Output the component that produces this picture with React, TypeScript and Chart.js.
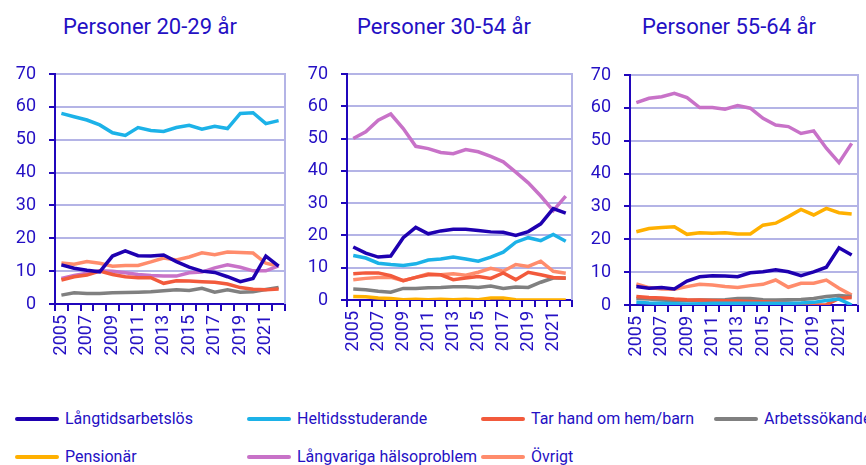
import React, { useEffect, useRef } from "react";
import { Chart, registerables } from "chart.js";

Chart.register(...registerables);

const years = ["2005","2006","2007","2008","2009","2010","2011","2012","2013","2014","2015","2016","2017","2018","2019","2020","2021","2022"];

const seriesNames = ["Långtidsarbetslös","Heltidsstuderande","Tar hand om hem/barn","Arbetssökande","Pensionär","Långvariga hälsoproblem","Övrigt"];
const seriesColors = ["#1e00b0","#1cb2e8","#f25a3c","#808080","#ffb000","#c872c8","#ff8c6c"];

const panelTitles = ["Personer 20-29 år","Personer 30-54 år","Personer 55-64 år"];

// Personer 20-29 år
const langtid1 = [11.9,10.9,10.3,9.8,14.6,16.2,14.7,14.6,14.9,12.9,11.2,10.0,9.6,8.3,6.8,7.8,14.6,11.5];
const heltid1 = [58.0,57.0,56.0,54.5,52.1,51.3,53.7,52.8,52.5,53.7,54.4,53.2,54.1,53.4,58.0,58.2,54.9,55.8];
const hem1 = [7.3,8.3,8.8,10.0,9.0,8.3,8.0,8.0,6.3,7.1,7.0,6.8,6.6,6.1,5.0,4.5,4.3,4.6];
const arbsok1 = [2.7,3.4,3.2,3.2,3.4,3.5,3.6,3.7,4.0,4.3,4.1,4.8,3.6,4.3,3.6,3.7,4.4,5.0];
const pens1: (number | null)[] = [null,null,null,null,null,null,null,null,null,null,null,null,null,null,null,null,null,null];
const halsa1 = [7.8,8.7,9.4,10.1,10.0,9.5,9.0,8.7,8.5,8.5,9.5,9.7,11.0,11.9,11.2,10.1,10.1,11.6];
const ovrigt1 = [12.5,12.1,12.9,12.4,11.5,11.7,11.7,12.8,14.0,13.4,14.3,15.6,15.0,15.8,15.7,15.5,12.4,11.5];

// Personer 30-54 år
const langtid2 = [16.4,14.5,13.3,13.6,19.3,22.5,20.5,21.4,21.9,21.9,21.5,21.1,21.0,20.0,21.2,23.6,28.3,26.9];
const heltid2 = [13.8,13.0,11.4,11.0,10.7,11.2,12.4,12.7,13.3,12.7,12.0,13.3,14.8,17.9,19.3,18.4,20.3,18.2];
const hem2 = [8.1,8.4,8.4,7.5,6.0,7.0,7.8,7.8,6.3,6.8,7.3,6.7,8.4,6.3,8.6,7.8,7.0,6.7];
const arbsok2 = [3.4,3.2,2.7,2.4,3.6,3.6,3.8,3.9,4.1,4.1,3.9,4.3,3.6,4.0,3.9,5.5,6.8,6.8];
const pens2 = [1.1,1.0,0.6,0.5,0.1,0.2,0.1,0.2,0.1,0.2,0.1,0.6,0.6,0.1,0.0,0.0,0.0,0.0];
const halsa2 = [50.0,52.1,55.7,57.6,53.1,47.6,46.9,45.7,45.3,46.6,45.9,44.5,42.8,39.6,36.3,32.2,27.7,32.2];
const ovrigt2 = [6.3,6.7,7.0,7.0,6.0,7.0,8.1,7.8,8.1,7.7,8.6,9.8,8.9,11.0,10.4,12.0,8.9,8.3];

// Personer 55-64 år
const langtid3 = [5.6,5.1,5.3,4.9,7.3,8.6,8.9,8.8,8.6,9.8,10.1,10.7,10.1,8.9,10.1,11.5,17.4,15.2];
const heltid3 = [0.8,0.6,0.5,0.4,0.3,0.4,0.5,0.5,0.5,0.5,0.5,0.5,0.5,0.6,0.8,1.4,1.8,0.0];
const hem3 = [2.6,2.3,2.1,1.8,1.6,1.5,1.4,1.3,1.2,1.1,1.0,0.8,0.6,0.1,0.0,0.1,2.0,2.3];
const arbsok3 = [2.0,1.8,1.5,1.3,1.4,1.5,1.5,1.6,2.0,2.0,1.6,1.5,1.6,1.7,2.0,2.6,2.9,2.6];
const pens3 = [22.3,23.3,23.6,23.8,21.5,22.0,21.8,22.0,21.6,21.6,24.3,24.9,26.9,29.1,27.4,29.4,28.1,27.7];
const halsa3 = [61.6,62.9,63.4,64.4,63.1,60.1,60.1,59.6,60.7,59.9,56.8,54.8,54.3,52.2,53.0,47.7,43.3,49.2];
const ovrigt3 = [6.4,5.3,4.9,4.8,5.6,6.3,6.1,5.6,5.3,5.9,6.3,7.6,5.4,6.6,6.6,7.6,5.1,3.0];

const panelData = [
  [langtid1, heltid1, hem1, arbsok1, pens1, halsa1, ovrigt1],
  [langtid2, heltid2, hem2, arbsok2, pens2, halsa2, ovrigt2],
  [langtid3, heltid3, hem3, arbsok3, pens3, halsa3, ovrigt3],
];

const TEXT = "#2410c4";
const AXIS = "#2006bc";
const GRID = "#b4b4e6";
const FONT = "Roboto, 'Noto Sans', sans-serif";

const CANVAS_TOP = 50;
const layouts = [
  { left: 10, areaLeft: 55, areaRight: 285, areaTop: 74, areaBottom: 304, titleLeft: 63 },
  { left: 302, areaLeft: 347, areaRight: 572, areaTop: 74, areaBottom: 300, titleLeft: 357 },
  { left: 585, areaLeft: 630, areaRight: 858, areaTop: 75, areaBottom: 305, titleLeft: 642 },
];
const X_AXIS_H = 60;
const PAD_RIGHT = 5;

const rightBorder = {
  id: "rightBorder",
  beforeDatasetsDraw(chart: any) {
    const { ctx, chartArea } = chart;
    ctx.save();
    ctx.strokeStyle = GRID;
    ctx.lineWidth = 2;
    ctx.beginPath();
    ctx.moveTo(chartArea.right, chartArea.top - 1);
    ctx.lineTo(chartArea.right, chartArea.bottom);
    ctx.stroke();
    ctx.restore();
  },
};

function Panel({ index }: { index: number }) {
  const ref = useRef<HTMLCanvasElement | null>(null);
  const lay = layouts[index];
  const yW = lay.areaLeft - lay.left;
  const width = lay.areaRight + PAD_RIGHT - lay.left;
  const padTop = lay.areaTop - CANVAS_TOP;
  const height = lay.areaBottom - CANVAS_TOP + X_AXIS_H;
  useEffect(() => {
    if (!ref.current) return;
    const data = panelData[index];
    const chart = new Chart(ref.current, {
      type: "line",
      data: {
        labels: years,
        datasets: seriesNames.map((name, i) => ({
          label: name,
          data: data[i],
          borderColor: seriesColors[i],
          backgroundColor: seriesColors[i],
          borderWidth: 3.5,
          pointRadius: 0,
          tension: 0,
          fill: false,
        })),
      },
      options: {
        animation: false,
        responsive: false,
        devicePixelRatio: 1,
        layout: { padding: { top: padTop, right: PAD_RIGHT, left: 0, bottom: 0 } },
        plugins: { legend: { display: false }, title: { display: false }, tooltip: { enabled: false } },
        scales: {
          x: {
            type: "category",
            offset: true,
            grid: { display: true, drawOnChartArea: false, color: AXIS, tickColor: AXIS, tickLength: 7, lineWidth: 2, offset: true },
            border: { display: true, color: AXIS, width: 2 },
            ticks: {
              autoSkip: false,
              maxRotation: 90,
              minRotation: 90,
              padding: 4,
              color: TEXT,
              font: { family: FONT, size: 18 },
              callback: (_v: any, i: number) => (i % 2 === 0 ? years[i] : ""),
            },
            afterFit: (s: any) => { s.height = X_AXIS_H; s.paddingLeft = 0; s.paddingRight = 0; s.paddingTop = 0; s.paddingBottom = 0; },
          },
          y: {
            type: "linear",
            min: 0,
            max: 70,
            grid: { color: GRID, lineWidth: 2, drawOnChartArea: true, tickColor: AXIS, tickLength: 6, tickWidth: 2 },
            border: { display: true, color: AXIS, width: 2 },
            ticks: { stepSize: 10, color: TEXT, padding: 13, font: { family: FONT, size: 18 } },
            afterFit: (s: any) => { s.width = yW; s.paddingTop = 0; s.paddingBottom = 0; s.paddingLeft = 0; s.paddingRight = 0; },
          },
        },
      },
      plugins: [rightBorder],
    });
    return () => chart.destroy();
  }, [index]);
  return (
    <>
      <div
        style={{
          position: "absolute",
          left: lay.titleLeft,
          top: 15,
          fontFamily: FONT,
          fontSize: 22,
          lineHeight: "24px",
          color: TEXT,
          whiteSpace: "nowrap",
        }}
      >
        {panelTitles[index]}
      </div>
      <canvas
        ref={ref}
        width={width}
        height={height}
        style={{ position: "absolute", left: lay.left, top: CANVAS_TOP, width, height }}
      />
    </>
  );
}

const legendCols = [15, 247, 481, 714];
const legendRows = [419, 457];

export default function App() {
  return (
    <div style={{ position: "absolute", left: 0, top: 0, width: 866, height: 465, background: "#fff", overflow: "hidden" }}>
      <Panel index={0} />
      <Panel index={1} />
      <Panel index={2} />
      {seriesNames.map((name, i) => {
        const col = i < 4 ? i : i - 4;
        const row = i < 4 ? 0 : 1;
        const x = legendCols[col];
        const y = legendRows[row];
        return (
          <React.Fragment key={name}>
            <div style={{ position: "absolute", left: x, top: y - 2, width: 44, height: 4, background: seriesColors[i], borderRadius: 2 }} />
            <div
              style={{
                position: "absolute",
                left: x + 50,
                top: y - 10,
                fontFamily: FONT,
                fontSize: 16,
                lineHeight: "20px",
                color: TEXT,
                whiteSpace: "nowrap",
              }}
            >
              {name}
            </div>
          </React.Fragment>
        );
      })}
    </div>
  );
}
